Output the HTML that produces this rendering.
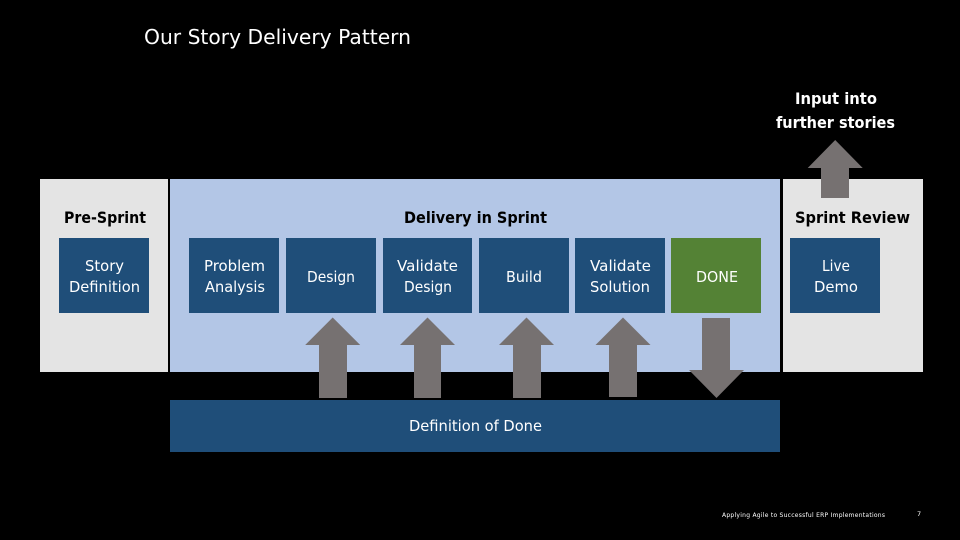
<!DOCTYPE html>
<html>
<head>
<meta charset="utf-8">
<style>
html,body{margin:0;padding:0;background:#000;width:960px;height:540px;overflow:hidden}
svg{display:block}
text{font-family:"DejaVu Sans",sans-serif}
.w{fill:#fff;font-size:15.5px}
.b{font-weight:bold;font-size:16px}
</style>
</head>
<body>
<svg width="960" height="540" viewBox="0 0 960 540" xmlns="http://www.w3.org/2000/svg">
<rect width="960" height="540" fill="#000"/>

<rect x="40" y="179" width="128" height="193" fill="#e4e4e4"/>
<rect x="170" y="179" width="610" height="193" fill="#b3c6e6"/>
<rect x="783" y="179" width="140" height="193" fill="#e4e4e4"/>

<g fill="#1f4e79">
<rect x="59" y="238" width="90" height="75"/>
<rect x="189" y="238" width="90" height="75"/>
<rect x="286" y="238" width="90" height="75"/>
<rect x="383" y="238" width="89" height="75"/>
<rect x="479" y="238" width="90" height="75"/>
<rect x="575" y="238" width="90" height="75"/>
<rect x="790" y="238" width="90" height="75"/>
<rect x="170" y="400" width="610" height="52"/>
</g>
<rect x="671" y="238" width="90" height="75" fill="#548235"/>

<g fill="#767171">
<polygon points="332.7,317.5 360.2,345 347,345 347,398 319,398 319,345 305.2,345"/>
<polygon points="427.5,317.5 455,345 441,345 441,398 414,398 414,345 400,345"/>
<polygon points="526.5,317.5 554,345 541,345 541,398 513,398 513,345 499,345"/>
<polygon points="623,317.5 650.5,345 637,345 637,397 609,397 609,345 595.5,345"/>
<polygon points="835.2,140 862.7,168 849,168 849,198 821,198 821,168 807.7,168"/>
<polygon points="702,318 730,318 730,370 744,370 716.5,398 689,370 702,370"/>
</g>

<text x="144" y="44" fill="#fff" style="font-size:20px" textLength="267" lengthAdjust="spacingAndGlyphs">Our Story Delivery Pattern</text>

<text class="b" x="795" y="104" fill="#fff" textLength="82" lengthAdjust="spacingAndGlyphs">Input into</text>
<text class="b" x="776" y="128" fill="#fff" textLength="119" lengthAdjust="spacingAndGlyphs">further stories</text>

<text class="b" x="64" y="223" fill="#000" textLength="82" lengthAdjust="spacingAndGlyphs">Pre-Sprint</text>
<text class="b" x="404" y="223" fill="#000" textLength="143" lengthAdjust="spacingAndGlyphs">Delivery in Sprint</text>
<text class="b" x="795" y="223" fill="#000" textLength="115" lengthAdjust="spacingAndGlyphs">Sprint Review</text>

<text class="w" x="85" y="271" textLength="39" lengthAdjust="spacingAndGlyphs">Story</text>
<text class="w" x="69" y="292" textLength="71" lengthAdjust="spacingAndGlyphs">Definition</text>
<text class="w" x="204" y="271" textLength="61" lengthAdjust="spacingAndGlyphs">Problem</text>
<text class="w" x="205" y="292" textLength="60" lengthAdjust="spacingAndGlyphs">Analysis</text>
<text class="w" x="307" y="282" textLength="48" lengthAdjust="spacingAndGlyphs">Design</text>
<text class="w" x="397" y="271" textLength="61" lengthAdjust="spacingAndGlyphs">Validate</text>
<text class="w" x="404" y="292" textLength="48" lengthAdjust="spacingAndGlyphs">Design</text>
<text class="w" x="506" y="282" textLength="36" lengthAdjust="spacingAndGlyphs">Build</text>
<text class="w" x="590" y="271" textLength="61" lengthAdjust="spacingAndGlyphs">Validate</text>
<text class="w" x="590" y="292" textLength="60" lengthAdjust="spacingAndGlyphs">Solution</text>
<text class="w" x="696" y="282" textLength="42" lengthAdjust="spacingAndGlyphs">DONE</text>
<text class="w" x="822" y="271" textLength="28" lengthAdjust="spacingAndGlyphs">Live</text>
<text class="w" x="814" y="292" textLength="44" lengthAdjust="spacingAndGlyphs">Demo</text>
<text class="w" x="409" y="431" textLength="133" lengthAdjust="spacingAndGlyphs">Definition of Done</text>

<text x="722" y="517" fill="#fff" style="font-size:6px" textLength="163" lengthAdjust="spacing">Applying Agile to Successful ERP Implementations</text>
<text x="917" y="516" fill="#fff" style="font-size:6.5px">7</text>
</svg>
</body>
</html>
